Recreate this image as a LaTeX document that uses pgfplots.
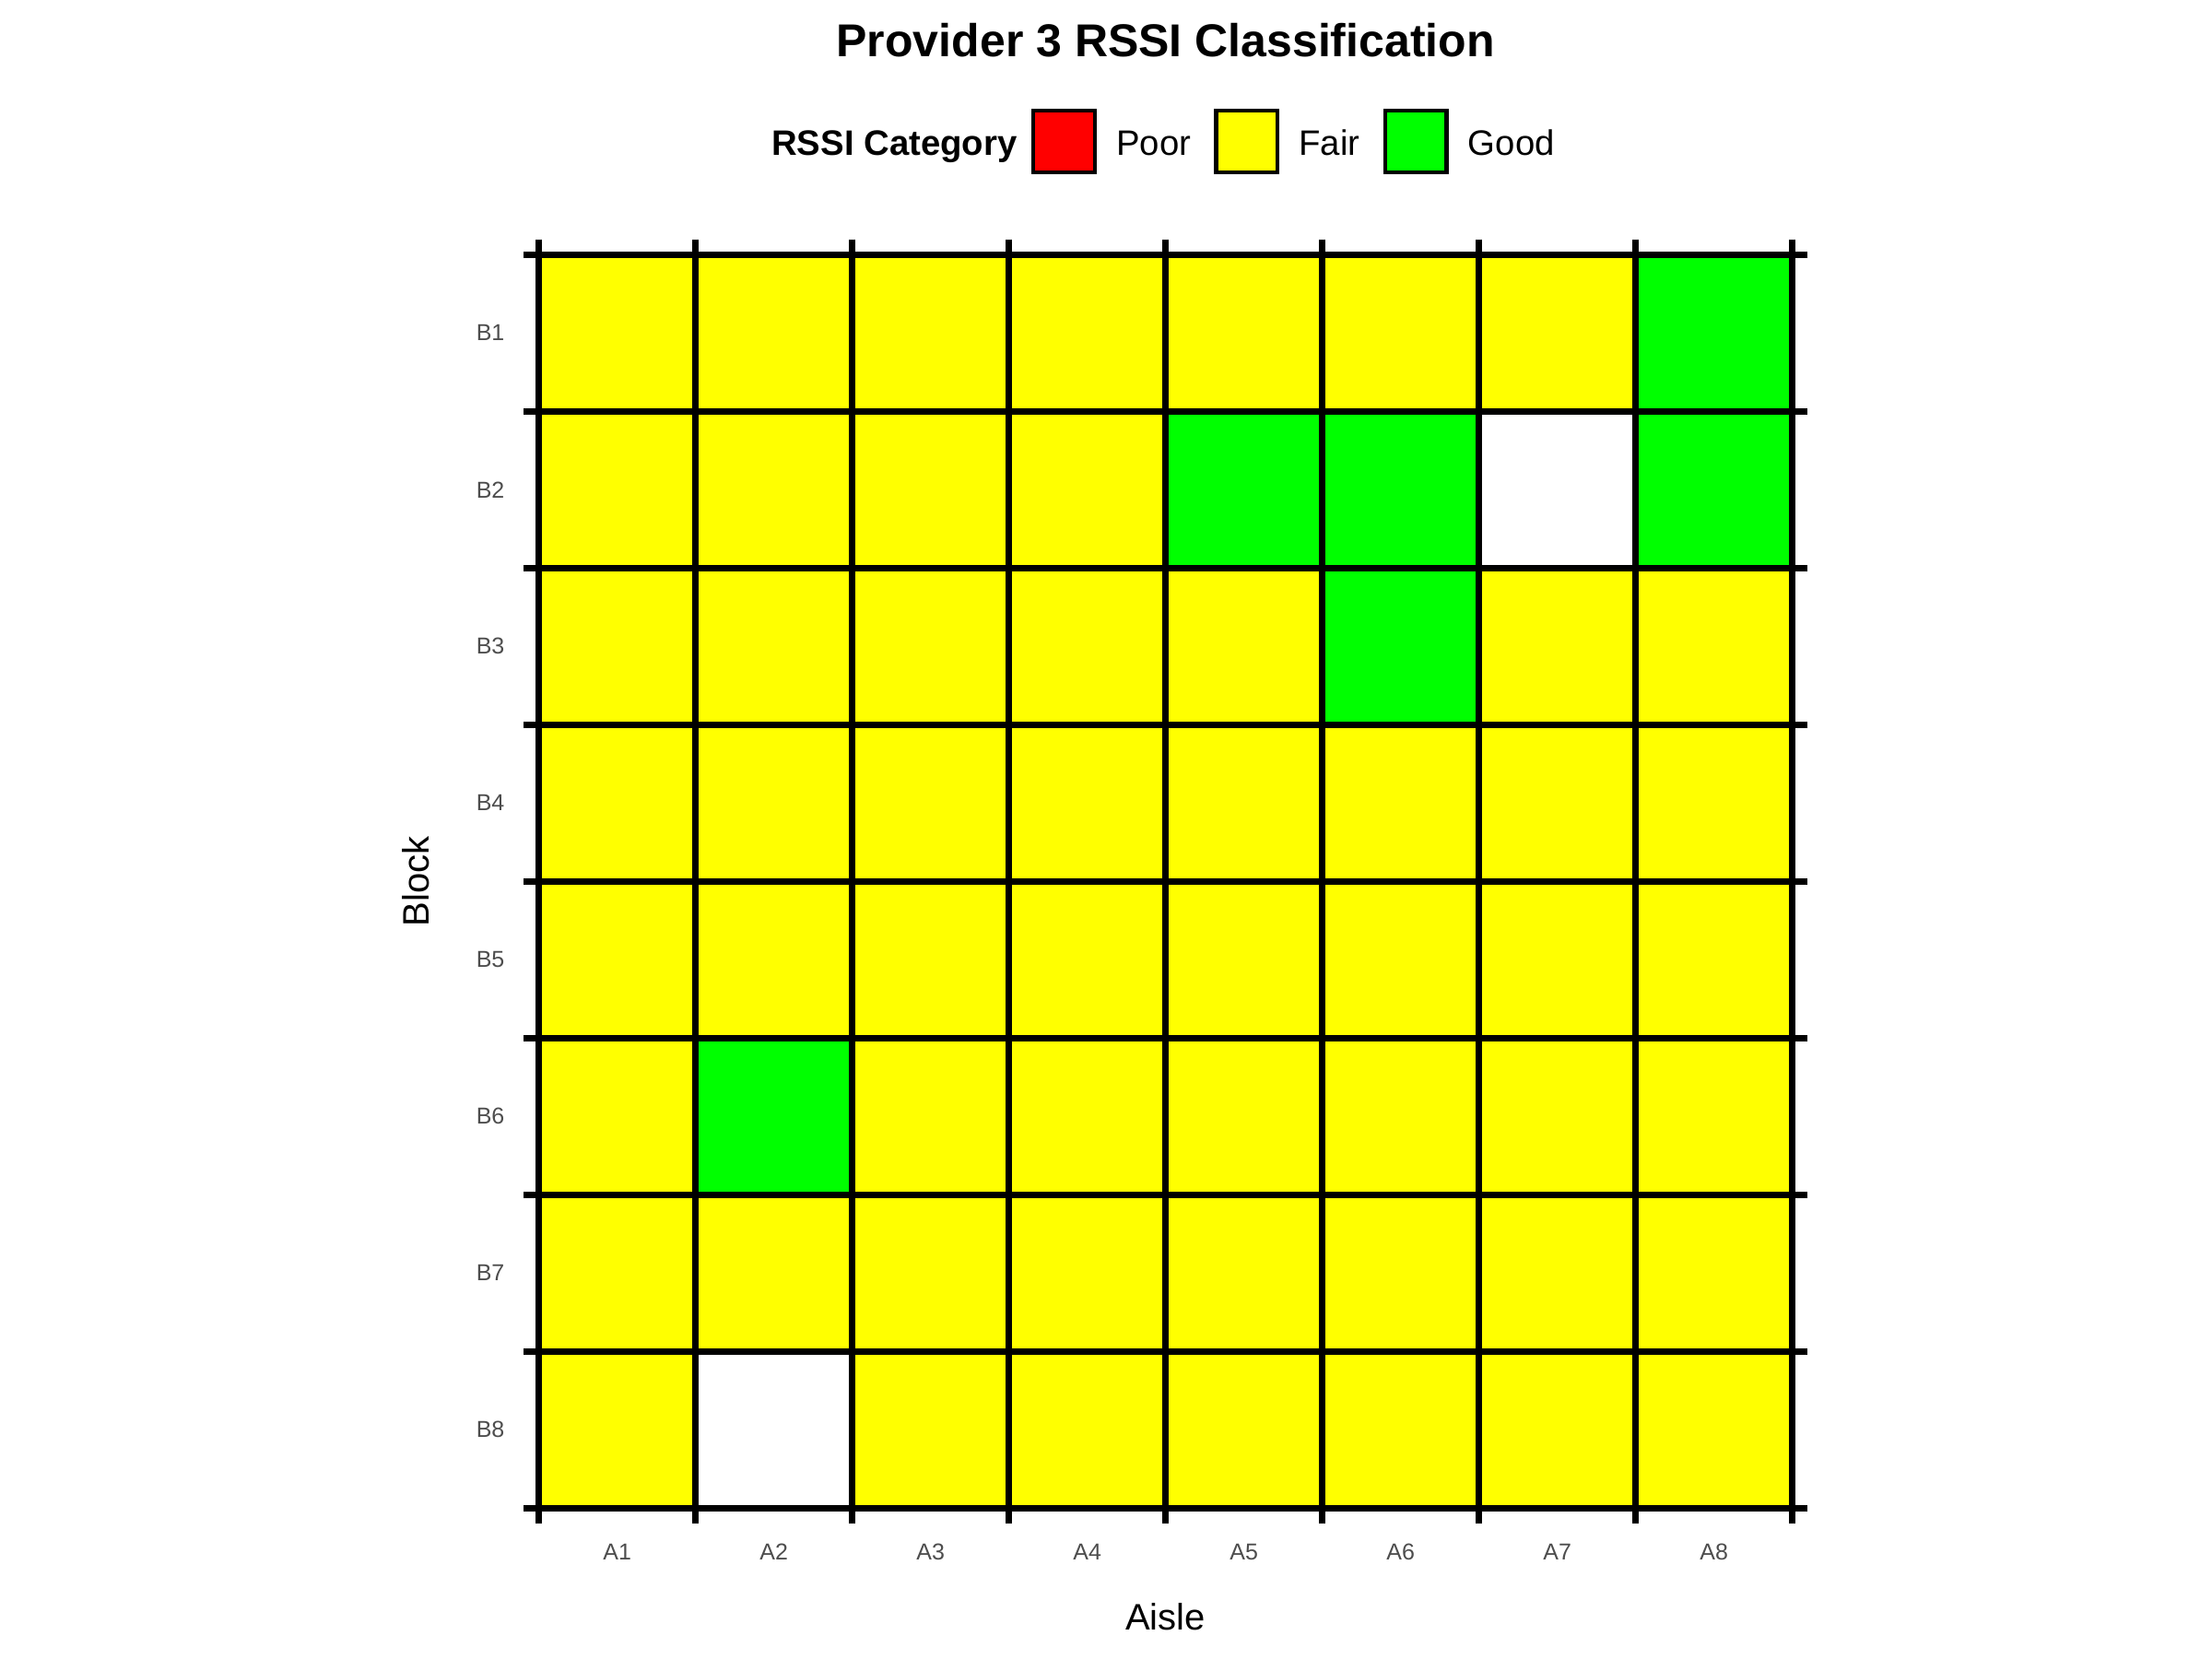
\documentclass[border=0pt]{standalone}
\usepackage{fontspec}
\setmainfont{Liberation Sans}
\usepackage{pgfplots}
\pgfplotsset{compat=1.18}
\definecolor{fairc}{HTML}{FFFF00}
\definecolor{goodc}{HTML}{00FF00}
\definecolor{poorc}{HTML}{FF0000}
\definecolor{tickc}{HTML}{4D4D4D}
\begin{document}
\begin{tikzpicture}
\path (-175.4pt,-49.1pt) rectangle (544.6pt,490.9pt);
\begin{axis}[
  set layers, axis on top,
  scale only axis, width=408pt, height=408pt,
  xmin=0.5, xmax=8.5, ymin=0.5, ymax=8.5,
  xtick={0.5,1.5,...,8.5}, xticklabels={},
  ytick={0.5,1.5,...,8.5}, yticklabels={},
  grid=major, major grid style={black, line width=2pt},
  major tick length=5pt, tick align=outside, tick pos=both,
  xticklabel pos=left, yticklabel pos=left,
  major tick style={black, line width=2pt},
  axis line style={black, line width=2pt},
  extra x ticks={1,2,...,8}, extra x tick labels={A1,A2,A3,A4,A5,A6,A7,A8},
  extra y ticks={1,2,...,8}, extra y tick labels={B8,B7,B6,B5,B4,B3,B2,B1},
  extra tick style={grid=none, major tick length=0pt},
  ticklabel style={font=\fontsize{7.5}{9}\selectfont, text=tickc, inner sep=0pt},
  xticklabel style={anchor=center, yshift=-14.3pt},
  yticklabel style={anchor=east, xshift=-11pt},
  xlabel={Aisle}, ylabel={Block},
  label style={font=\fontsize{12}{14}\selectfont},
  xlabel style={at={(axis description cs:0.5,-0.0865)}, anchor=center},
  ylabel style={at={(axis description cs:-0.098,0.5)}, anchor=center},
  legend columns=-1,
  legend style={at={(axis description cs:0.1696,1.0904)}, anchor=west, draw=none, fill=none,
    inner sep=0pt, column sep=0pt, nodes={inner sep=0pt, font=\fontsize{11.5}{13.8}\selectfont},
    /tikz/every odd column/.append style={column sep=6.4pt},
    /tikz/every even column/.append style={column sep=7.5pt}},
]
\addplot[only marks, mark=square*, mark size=25.5pt, mark options={fill=fairc, draw=fairc, line width=0.1pt}, forget plot] coordinates {
(1,8)(2,8)(3,8)(4,8)(5,8)(6,8)(7,8)
(1,7)(2,7)(3,7)(4,7)
(1,6)(2,6)(3,6)(4,6)(5,6)(7,6)(8,6)
(1,5)(2,5)(3,5)(4,5)(5,5)(6,5)(7,5)(8,5)
(1,4)(2,4)(3,4)(4,4)(5,4)(6,4)(7,4)(8,4)
(1,3)(3,3)(4,3)(5,3)(6,3)(7,3)(8,3)
(1,2)(2,2)(3,2)(4,2)(5,2)(6,2)(7,2)(8,2)
(1,1)(3,1)(4,1)(5,1)(6,1)(7,1)(8,1)
};
\addplot[only marks, mark=square*, mark size=25.5pt, mark options={fill=goodc, draw=goodc, line width=0.1pt}, forget plot] coordinates {
(8,8)(5,7)(6,7)(8,7)(6,6)(2,3)
};
\addlegendimage{empty legend}
\addlegendentry{\textbf{RSSI Category}\hspace*{-2.9pt}}
\addlegendimage{legend image code/.code={\draw[fill=poorc, draw=black, line width=1.3pt] (0pt,-8.8pt) rectangle (20pt,11.2pt);}}
\addlegendentry{Poor}
\addlegendimage{legend image code/.code={\draw[fill=fairc, draw=black, line width=1.3pt] (0pt,-8.8pt) rectangle (20pt,11.2pt);}}
\addlegendentry{Fair}
\addlegendimage{legend image code/.code={\draw[fill=goodc, draw=black, line width=1.3pt] (0pt,-8.8pt) rectangle (20pt,11.2pt);}}
\addlegendentry{Good}
\end{axis}
\node[anchor=base, font=\bfseries\fontsize{15}{18}\selectfont] at (204pt,472.5pt) {Provider 3 RSSI Classification};
\end{tikzpicture}
\end{document}
